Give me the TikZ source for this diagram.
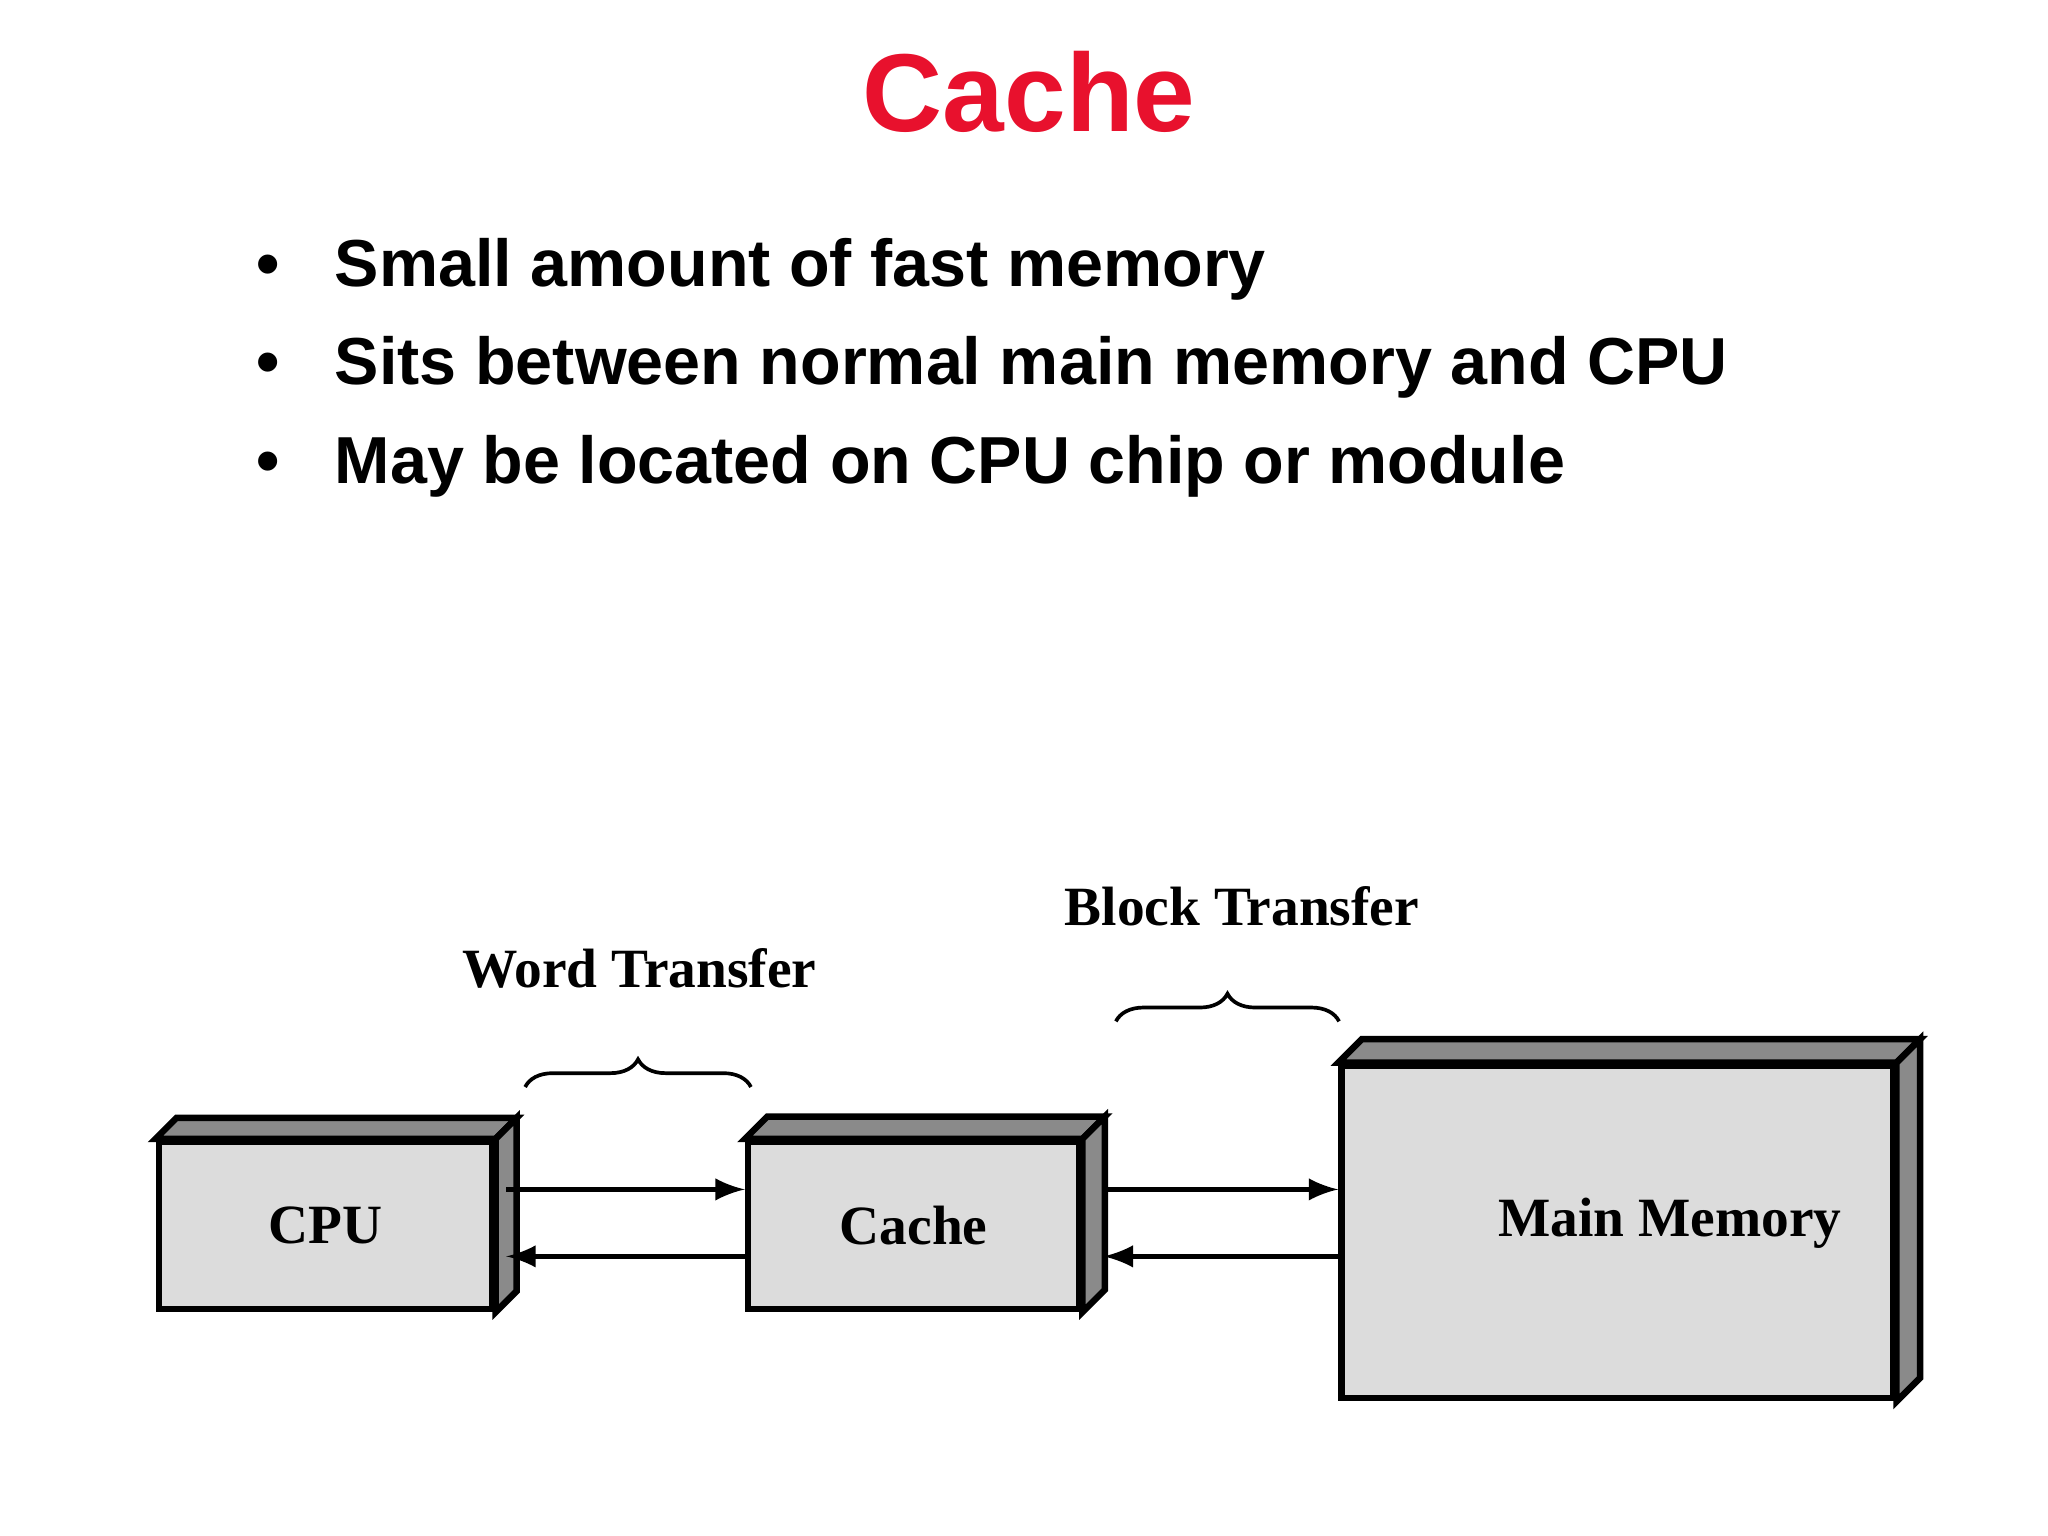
\documentclass[tikz,border=0pt]{standalone}
\usepackage{fontspec}
\setmainfont{Liberation Serif}
\newfontfamily\slidefont{Liberation Sans}
\usetikzlibrary{decorations.pathreplacing,calc}
\definecolor{titlered}{HTML}{E8112D}
\definecolor{facegray}{HTML}{DCDCDC}
\definecolor{edgegray}{HTML}{8A8A8A}
\begin{document}
\begin{tikzpicture}[
  x=0.01cm, y=-0.01cm,
  unit/.style={rectangle, draw, line width=1.4pt, fill=facegray, inner sep=0pt, font=\bfseries\fontsize{12}{14}\selectfont},
  bullet/.style={anchor=west, font=\slidefont\bfseries\fontsize{14.4}{17}\selectfont},
  transfer/.style={->, line width=1.2pt, >=latex},
  curly/.style={decorate, decoration={brace, amplitude=6pt}, line width=0.8pt},
  caption/.style={font=\bfseries\fontsize{12}{14}\selectfont}
]
\useasboundingbox (0,0) rectangle (1560,1170);

% Title and bullets
\node[font=\slidefont\bfseries\fontsize{24}{29}\selectfont, text=titlered] (title) at (784,70) {Cache};
\node[bullet] (b1) at (183,205) {\textbullet\hspace{0.42cm}Small amount of fast memory};
\node[bullet] (b2) at (183,280) {\textbullet\hspace{0.42cm}Sits between normal main memory and CPU};
\node[bullet] (b3) at (183,355) {\textbullet\hspace{0.42cm}May be located on CPU chip or module};

% Units
\node[unit, minimum width=2.54cm, minimum height=1.27cm] (cpu) at (248,933.5) {CPU};
\node[unit, minimum width=2.52cm, minimum height=1.27cm] (cache) at (696,933.5) {Cache};
\node[unit, minimum width=4.2cm, minimum height=2.53cm] (mem) at (1232,938.5) {};
\node[font=\bfseries\fontsize{12}{14}\selectfont] (memlabel) at (1272,932) {Main Memory};

% Shaded top and side faces
\foreach \n/\d in {cpu/16, cache/17, mem/18}{
  \filldraw[fill=edgegray, line width=1.4pt] (\n.north west) -- ++(\d,-\d) -- ($(\n.north east)+(\d,-\d)$) -- (\n.north east) -- cycle;
  \filldraw[fill=edgegray, line width=1.4pt] (\n.north east) -- ++(\d,-\d) -- ($(\n.south east)+(\d,-\d)$) -- (\n.south east) -- cycle;
}

% Connectors
\draw[transfer] ($(cpu.east)+(8,-27.5)$) -- ($(cache.west)+(0,-27.5)$);
\draw[transfer] ($(cache.west)+(0,23.5)$) -- ($(cpu.east)+(8,23.5)$);
\draw[transfer] ($(cache.east)+(18,-27.5)$) -- ($(mem.west)+(0,-32.5)$);
\draw[transfer] ($(mem.west)+(0,18.5)$) -- ($(cache.east)+(16,23.5)$);

% Braces and captions
\coordinate (w1) at (400,828);
\coordinate (w2) at (572,828);
\coordinate (k1) at (850,778);
\coordinate (k2) at (1020,778);
\draw[curly] (w1) -- (w2);
\draw[curly] (k1) -- (k2);
\node[caption] (word) at (487,738) {Word Transfer};
\node[caption] (block) at (946,690) {Block Transfer};
\end{tikzpicture}
\end{document}
